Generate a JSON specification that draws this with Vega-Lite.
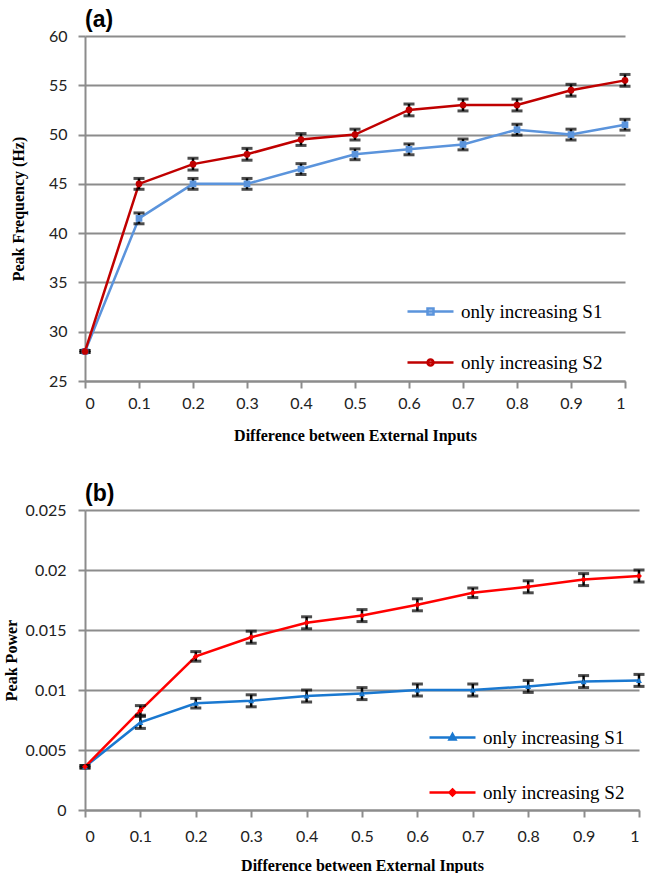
{
  "$schema": "https://vega.github.io/schema/vega-lite/v6.json",
  "background": "white",
  "padding": {"left": 3, "top": 9, "right": 0, "bottom": 0},
  "columns": 1,
  "spacing": 40,
  "datasets": {
    "freq": [
      {"x": 0, "series": "only increasing S1", "y": 28, "lo": 27.9, "hi": 28.1},
      {"x": 0.1, "series": "only increasing S1", "y": 41.5, "lo": 40.95, "hi": 42.05},
      {"x": 0.2, "series": "only increasing S1", "y": 45, "lo": 44.45, "hi": 45.55},
      {"x": 0.3, "series": "only increasing S1", "y": 45, "lo": 44.45, "hi": 45.55},
      {"x": 0.4, "series": "only increasing S1", "y": 46.5, "lo": 45.95, "hi": 47.05},
      {"x": 0.5, "series": "only increasing S1", "y": 48, "lo": 47.45, "hi": 48.55},
      {"x": 0.6, "series": "only increasing S1", "y": 48.5, "lo": 47.95, "hi": 49.05},
      {"x": 0.7, "series": "only increasing S1", "y": 49, "lo": 48.45, "hi": 49.55},
      {"x": 0.8, "series": "only increasing S1", "y": 50.5, "lo": 49.95, "hi": 51.05},
      {"x": 0.9, "series": "only increasing S1", "y": 50, "lo": 49.45, "hi": 50.55},
      {"x": 1, "series": "only increasing S1", "y": 51, "lo": 50.45, "hi": 51.55},
      {"x": 0, "series": "only increasing S2", "y": 28, "lo": 27.9, "hi": 28.1},
      {"x": 0.1, "series": "only increasing S2", "y": 45, "lo": 44.45, "hi": 45.55},
      {"x": 0.2, "series": "only increasing S2", "y": 47, "lo": 46.4, "hi": 47.6},
      {"x": 0.3, "series": "only increasing S2", "y": 48, "lo": 47.4, "hi": 48.6},
      {"x": 0.4, "series": "only increasing S2", "y": 49.5, "lo": 48.9, "hi": 50.1},
      {"x": 0.5, "series": "only increasing S2", "y": 50, "lo": 49.45, "hi": 50.55},
      {"x": 0.6, "series": "only increasing S2", "y": 52.5, "lo": 51.9, "hi": 53.1},
      {"x": 0.7, "series": "only increasing S2", "y": 53, "lo": 52.4, "hi": 53.6},
      {"x": 0.8, "series": "only increasing S2", "y": 53, "lo": 52.4, "hi": 53.6},
      {"x": 0.9, "series": "only increasing S2", "y": 54.5, "lo": 53.9, "hi": 55.1},
      {"x": 1, "series": "only increasing S2", "y": 55.5, "lo": 54.9, "hi": 56.1}
    ],
    "power": [
      {"x": 0, "series": "only increasing S1", "y": 0.0036, "lo": 0.0035, "hi": 0.0037},
      {"x": 0.1, "series": "only increasing S1", "y": 0.0073, "lo": 0.0068, "hi": 0.0078},
      {"x": 0.2, "series": "only increasing S1", "y": 0.0089, "lo": 0.0085, "hi": 0.0093},
      {"x": 0.3, "series": "only increasing S1", "y": 0.0091, "lo": 0.0086, "hi": 0.0096},
      {"x": 0.4, "series": "only increasing S1", "y": 0.0095, "lo": 0.009, "hi": 0.01},
      {"x": 0.5, "series": "only increasing S1", "y": 0.0097, "lo": 0.0092, "hi": 0.0102},
      {"x": 0.6, "series": "only increasing S1", "y": 0.01, "lo": 0.0095, "hi": 0.0105},
      {"x": 0.7, "series": "only increasing S1", "y": 0.01, "lo": 0.0095, "hi": 0.0105},
      {"x": 0.8, "series": "only increasing S1", "y": 0.0103, "lo": 0.0098, "hi": 0.0108},
      {"x": 0.9, "series": "only increasing S1", "y": 0.0107, "lo": 0.0102, "hi": 0.0112},
      {"x": 1, "series": "only increasing S1", "y": 0.0108, "lo": 0.0103, "hi": 0.0113},
      {"x": 0, "series": "only increasing S2", "y": 0.0036, "lo": 0.0035, "hi": 0.0037},
      {"x": 0.1, "series": "only increasing S2", "y": 0.0083, "lo": 0.0079, "hi": 0.0087},
      {"x": 0.2, "series": "only increasing S2", "y": 0.0128, "lo": 0.0124, "hi": 0.0132},
      {"x": 0.3, "series": "only increasing S2", "y": 0.0144, "lo": 0.0139, "hi": 0.0149},
      {"x": 0.4, "series": "only increasing S2", "y": 0.0156, "lo": 0.0151, "hi": 0.0161},
      {"x": 0.5, "series": "only increasing S2", "y": 0.0162, "lo": 0.0157, "hi": 0.0167},
      {"x": 0.6, "series": "only increasing S2", "y": 0.0171, "lo": 0.0166, "hi": 0.0176},
      {"x": 0.7, "series": "only increasing S2", "y": 0.0181, "lo": 0.0177, "hi": 0.0185},
      {"x": 0.8, "series": "only increasing S2", "y": 0.0186, "lo": 0.0181, "hi": 0.0191},
      {"x": 0.9, "series": "only increasing S2", "y": 0.0192, "lo": 0.0187, "hi": 0.0197},
      {"x": 1, "series": "only increasing S2", "y": 0.0195, "lo": 0.019, "hi": 0.02}
    ]
  },
  "concat": [
    {
      "title": "(a)",
      "width": 540,
      "height": 345,
      "data": {"name": "freq"},
      "encoding": {
        "x": {
          "field": "x", "type": "quantitative",
          "scale": {"domain": [0, 1], "nice": false},
          "axis": {"values": [0, 0.1, 0.2, 0.3, 0.4, 0.5, 0.6, 0.7, 0.8, 0.9, 1], "format": "~g", "title": "Difference between External Inputs", "labelPadding": 7, "titlePadding": 16}
        }
      },
      "layer": [
        {
          "mark": {"type": "line", "strokeWidth": 2.5},
          "encoding": {
            "y": {"field": "y", "type": "quantitative", "title": "Peak Frequency  (Hz)", "scale": {"domain": [25, 60], "nice": false}, "axis": {"values": [25, 30, 35, 40, 45, 50, 55, 60], "labelPadding": 11, "titlePadding": 22}},
            "color": {
              "field": "series", "type": "nominal",
              "scale": {"domain": ["only increasing S1", "only increasing S2"], "range": ["#5b94dc", "#c00000"]},
              "legend": {
                "orient": "none", "legendX": 334, "legendY": 264, "title": null, "padding": 0,
                "symbolSize": 400, "rowPadding": 29, "labelOffset": 19, "symbolStrokeWidth": 2.5,
                "labelFont": "Liberation Serif", "labelFontSize": 19, "labelColor": "black",
                "symbolType": "M-2.3,0H2.3M-0.3,-0.3H0.3V0.3H-0.3Z",
                "encode": {"symbols": {"update": {
                  "shape": {"signal": "datum.value === 'only increasing S1' ? 'M-2.3,0H2.3M-0.3,-0.3H0.3V0.3H-0.3Z' : 'M-2.3,0H2.3M-0.3,0A0.3,0.3,0,1,0,0.3,0A0.3,0.3,0,1,0,-0.3,0Z'"},
                  "fill": {"value": "transparent"},
                  "strokeWidth": {"value": 2.5},
                  "opacity": {"value": 1}
                }}}
              }
            }
          }
        },
        {
          "mark": {"type": "errorbar", "color": "black", "thickness": 2.5, "ticks": {"size": 11, "thickness": 3, "color": "black"}, "rule": {"strokeWidth": 2.5, "color": "black"}},
          "encoding": {
            "y": {"field": "lo", "type": "quantitative", "title": "Peak Frequency  (Hz)"},
            "y2": {"field": "hi"}
          }
        },
        {
          "transform": [{"filter": "datum.series === 'only increasing S1'"}],
          "mark": {"type": "point", "shape": "square", "filled": true, "opacity": 1, "size": 45, "color": "#5b94dc"},
          "encoding": {"y": {"field": "y", "type": "quantitative", "title": "Peak Frequency  (Hz)"}}
        },
        {
          "transform": [{"filter": "datum.series === 'only increasing S2'"}],
          "mark": {"type": "point", "shape": "circle", "filled": true, "opacity": 1, "size": 45, "color": "#c00000"},
          "encoding": {"y": {"field": "y", "type": "quantitative", "title": "Peak Frequency  (Hz)"}}
        }
      ]
    },
    {
      "title": "(b)",
      "width": 554,
      "height": 300,
      "data": {"name": "power"},
      "encoding": {
        "x": {
          "field": "x", "type": "quantitative",
          "scale": {"domain": [0, 1], "nice": false},
          "axis": {"values": [0, 0.1, 0.2, 0.3, 0.4, 0.5, 0.6, 0.7, 0.8, 0.9, 1], "format": "~g", "title": "Difference between External Inputs", "labelPadding": 11, "titlePadding": 13}
        }
      },
      "layer": [
        {
          "mark": {"type": "line", "strokeWidth": 2.5},
          "encoding": {
            "y": {"field": "y", "type": "quantitative", "title": "Peak Power", "scale": {"domain": [0, 0.025], "nice": false}, "axis": {"values": [0, 0.005, 0.01, 0.015, 0.02, 0.025], "format": "~g", "labelPadding": 12, "titlePadding": 6}},
            "color": {
              "field": "series", "type": "nominal",
              "scale": {"domain": ["only increasing S1", "only increasing S2"], "range": ["#1a78d0", "#ff0000"]},
              "legend": {
                "orient": "none", "legendX": 356, "legendY": 216, "title": null, "padding": 0,
                "symbolSize": 400, "rowPadding": 33, "labelOffset": 19, "symbolStrokeWidth": 2.5,
                "labelFont": "Liberation Serif", "labelFontSize": 19, "labelColor": "black",
                "symbolType": "M-2.3,0H2.3M0,-0.35L0.3,0.2H-0.3Z",
                "encode": {"symbols": {"update": {
                  "shape": {"signal": "datum.value === 'only increasing S1' ? 'M-2.3,0H2.3M0,-0.35L0.3,0.2H-0.3Z' : 'M-2.3,0H2.3M0,-0.3L0.3,0L0,0.3L-0.3,0Z'"},
                  "fill": {"value": "transparent"},
                  "strokeWidth": {"value": 2.5},
                  "opacity": {"value": 1}
                }}}
              }
            }
          }
        },
        {
          "mark": {"type": "errorbar", "color": "black", "thickness": 2.5, "ticks": {"size": 11, "thickness": 3, "color": "black"}, "rule": {"strokeWidth": 2.5, "color": "black"}},
          "encoding": {
            "y": {"field": "lo", "type": "quantitative", "title": "Peak Power"},
            "y2": {"field": "hi"}
          }
        },
        {
          "transform": [{"filter": "datum.series === 'only increasing S1'"}],
          "mark": {"type": "point", "shape": "triangle-up", "filled": true, "opacity": 1, "size": 35, "color": "#1a78d0"},
          "encoding": {"y": {"field": "y", "type": "quantitative", "title": "Peak Power"}}
        },
        {
          "transform": [{"filter": "datum.series === 'only increasing S2'"}],
          "mark": {"type": "point", "shape": "diamond", "filled": true, "opacity": 1, "size": 35, "color": "#ff0000"},
          "encoding": {"y": {"field": "y", "type": "quantitative", "title": "Peak Power"}}
        }
      ]
    }
  ],
  "resolve": {"scale": {"color": "independent", "x": "independent", "y": "independent"}, "legend": {"color": "independent"}},
  "config": {
    "view": {"stroke": null},
    "font": "Lato",
    "legend": {"labelFont": "Liberation Serif", "labelFontSize": 19, "labelColor": "black"},
    "axis": {
      "labelFont": "Lato", "labelFontSize": 16, "labelColor": "#222222",
      "titleFont": "Liberation Serif", "titleFontSize": 16, "titleFontWeight": "bold", "titleColor": "black",
      "domainColor": "#8c8c8c", "domainWidth": 2, "tickColor": "#8c8c8c", "tickWidth": 2, "tickSize": 7,
      "gridColor": "#8c8c8c", "gridWidth": 2, "gridOpacity": 1
    },
    "axisX": {"grid": false},
    "title": {"font": "Liberation Sans", "fontSize": 23, "fontWeight": "bold", "anchor": "start", "frame": "group", "offset": -4, "color": "black"}
  }
}
